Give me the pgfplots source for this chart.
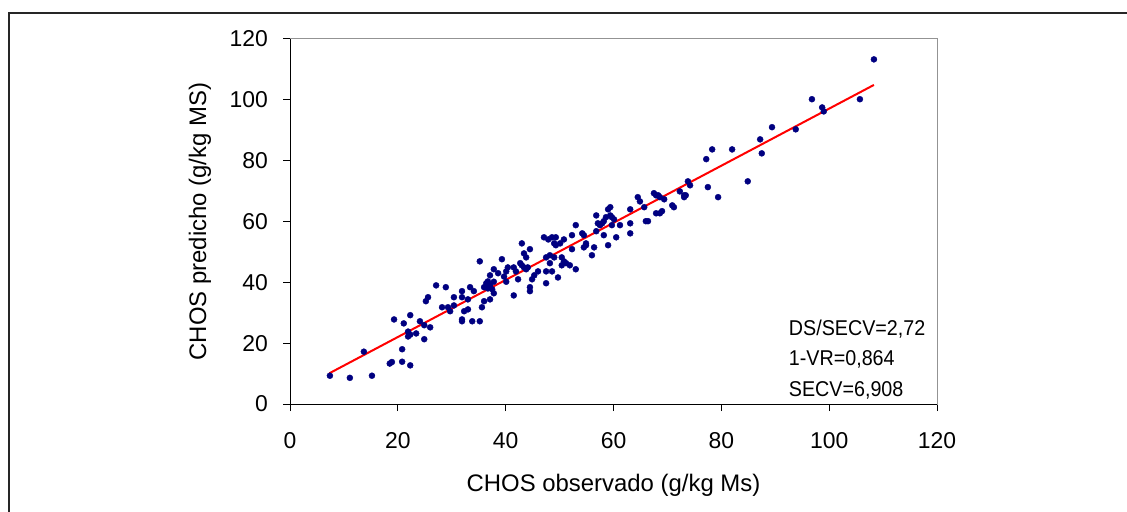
\documentclass[border=0pt]{standalone}
\usepackage{pgfplots}
\pgfplotsset{compat=1.18}
\usepackage{fontspec}
\setmainfont{Liberation Sans}
\definecolor{navyblue}{RGB}{0,0,128}
\begin{document}
\begin{tikzpicture}
\path[use as bounding box] (0,0) rectangle (1127bp,512bp);
\draw[line width=2bp, black!85] (9bp,-2bp) -- (9bp,499bp) -- (1130bp,499bp);
\begin{axis}[
  at={(290bp,108bp)}, anchor=south west,
  scale only axis, width=647bp, height=365bp,
  xmin=0, xmax=120, ymin=0, ymax=120,
  xtick={0,20,...,120}, ytick={0,20,...,120},
  axis line style={draw=gray!85, line width=1bp},
  tick style={black, line width=1bp},
  tick align=outside, major tick length=7bp,
  xtick pos=bottom, ytick pos=left,
  tick label style={font=\fontsize{23}{27}\selectfont},
  /pgf/number format/assume math mode=true,
  yticklabel style={inner sep=0pt, xshift=-15bp},
  xticklabel style={inner sep=0pt, yshift=-21bp},
  xlabel={CHOS observado (g/kg Ms)},
  ylabel={CHOS predicho (g/kg MS)},
  label style={font=\fontsize{24}{28}\selectfont},
  xlabel style={at={(axis description cs:0.5,-0.222)}, anchor=center},
  ylabel style={at={(axis description cs:-0.139,0.5)}, anchor=center},
  clip=false,
  after end axis/.code={
    \draw[black, line width=1bp] (rel axis cs:0,1) -- (rel axis cs:0,0) -- (rel axis cs:1,0);
  },
]
\addplot[only marks, mark=*, mark size=3bp, color=navyblue] table {
x y
7.4 9.3
11.1 8.6
13.7 17.2
15.2 9.3
18.5 13.3
18.9 13.8
19.3 27.8
20.8 18.0
20.8 13.9
21.1 26.5
21.9 23.8
21.9 22.2
22.3 22.8
22.3 12.7
22.3 29.2
23.4 23.2
24.1 27.2
24.9 25.9
24.9 21.3
26.0 25.2
25.2 33.8
25.6 35.1
27.1 39.0
28.2 31.8
28.9 38.4
29.3 31.8
29.7 30.5
30.4 35.1
30.4 32.4
31.9 37.1
31.9 35.1
31.9 27.8
31.9 27.2
32.3 30.5
33.0 31.1
33.0 34.4
33.4 38.4
33.8 27.2
34.1 37.1
35.2 46.9
35.2 27.2
35.6 31.8
36.0 38.4
36.0 33.8
36.4 39.7
36.7 40.3
37.1 39.1
37.8 40.2
36.7 38.0
37.5 37.7
37.8 36.4
37.1 34.4
37.1 42.3
37.8 44.3
38.6 43.0
39.3 47.6
39.7 41.9
40.1 40.2
40.4 44.9
40.1 43.6
41.5 35.7
41.5 44.9
41.9 43.6
42.3 41.0
42.7 46.3
43.0 45.6
43.4 44.9
43.8 44.3
44.1 44.9
43.0 52.8
43.4 49.5
43.8 48.2
44.5 50.9
44.5 38.4
44.5 37.1
44.9 41.0
45.3 42.3
46.0 43.6
47.1 54.8
47.9 54.1
48.6 54.8
49.3 54.8
47.5 48.2
48.2 48.9
49.0 48.2
47.5 43.6
48.6 43.6
47.5 39.7
48.2 46.3
49.0 52.8
49.3 52.2
49.7 41.6
50.1 52.8
50.4 48.2
50.8 46.9
50.8 54.1
50.4 45.6
51.2 46.3
51.9 45.6
52.3 55.5
52.3 50.9
53.0 58.8
53.0 44.3
54.2 56.1
54.5 55.5
54.9 52.2
54.5 51.5
54.9 52.8
56.0 48.9
56.4 51.5
56.8 62.0
56.8 56.8
57.1 59.4
57.5 58.8
57.9 59.4
58.2 60.1
58.6 61.4
59.0 64.0
58.2 55.5
59.0 52.2
59.4 64.7
59.4 62.0
59.7 61.4
60.1 60.7
59.7 58.8
60.5 54.8
61.2 58.8
63.1 64.0
63.1 59.4
63.1 56.1
64.5 68.0
64.9 66.6
65.7 64.7
66.0 60.1
66.4 60.1
67.5 69.3
67.9 68.6
68.3 68.6
68.6 68.0
67.9 62.7
68.6 62.7
69.0 63.4
69.4 67.3
70.9 65.3
71.2 64.7
72.3 69.9
73.1 68.6
73.4 68.6
73.1 68.0
73.8 73.2
74.2 71.9
77.2 80.5
77.5 71.3
78.3 83.7
79.4 68.0
82.0 83.7
84.9 73.2
87.2 87.0
87.5 82.4
89.4 91.0
93.8 90.3
96.8 100.2
98.7 97.5
99.0 96.2
105.7 100.2
108.3 113.3
};
\addplot[red, line width=2bp, mark=none] coordinates {(7.3,10.1) (108.3,104.9)};
\node[anchor=base west, inner sep=0pt, xscale=0.92, font=\fontsize{21.5}{25}\selectfont] at (axis cs:92.5,22.4) {DS/SECV=2,72};
\node[anchor=base west, inner sep=0pt, xscale=0.92, font=\fontsize{21.5}{25}\selectfont] at (axis cs:92.5,12.5) {1-VR=0,864};
\node[anchor=base west, inner sep=0pt, xscale=0.92, font=\fontsize{21.5}{25}\selectfont] at (axis cs:92.5,2.6) {SECV=6,908};
\end{axis}
\end{tikzpicture}
\end{document}
